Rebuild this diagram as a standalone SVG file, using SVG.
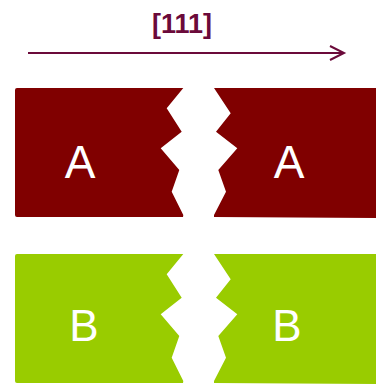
<svg xmlns="http://www.w3.org/2000/svg" width="376" height="384" viewBox="0 0 376 384">
<style>
.red{fill:#800000}
.green{fill:#99cc00}
.lbl{font-family:"Liberation Sans",Arial,sans-serif;fill:#ffffff;text-anchor:middle}
.title{font-family:"Liberation Sans",Arial,sans-serif;font-weight:bold;font-size:27px;fill:#6b0a3a;text-anchor:middle}
.conn{stroke:#6b0a3a;stroke-width:2;fill:none}
</style>
<defs>
<path id="leftPiece" d="M17,0 L183.3,0 L166.7,20.3 L181.7,43.7 L160.7,60.3 L179.3,82 L171.7,103.7 L183.3,127 L183,129 L17,129 Q15,129 15,127 L15,2 Q15,0 17,0 Z"/>
<path id="rightPiece" d="M214,0 L376,0 L376,130 L214,129 L214,127 L226,103.7 L218.3,82 L237.3,60.3 L216,43.7 L230.7,25.3 Z"/>
</defs>
<g id="title"><text class="title" x="182" y="33">[111]</text></g>
<g id="connectors">
<line class="conn" x1="28" y1="53" x2="344" y2="53"/>
<polyline class="conn" points="330,46 344,53 330,60"/>
</g>
<g id="nodeA1"><use href="#leftPiece" class="red" y="88"/><text class="lbl" x="80" y="178" font-size="46">A</text></g>
<g id="nodeA2"><use href="#rightPiece" class="red" y="88"/><text class="lbl" x="289" y="178" font-size="46">A</text></g>
<g id="nodeB1"><use href="#leftPiece" class="green" y="254"/><text class="lbl" x="84" y="341" font-size="44">B</text></g>
<g id="nodeB2"><use href="#rightPiece" class="green" y="254"/><text class="lbl" x="287" y="341" font-size="44">B</text></g>
</svg>
